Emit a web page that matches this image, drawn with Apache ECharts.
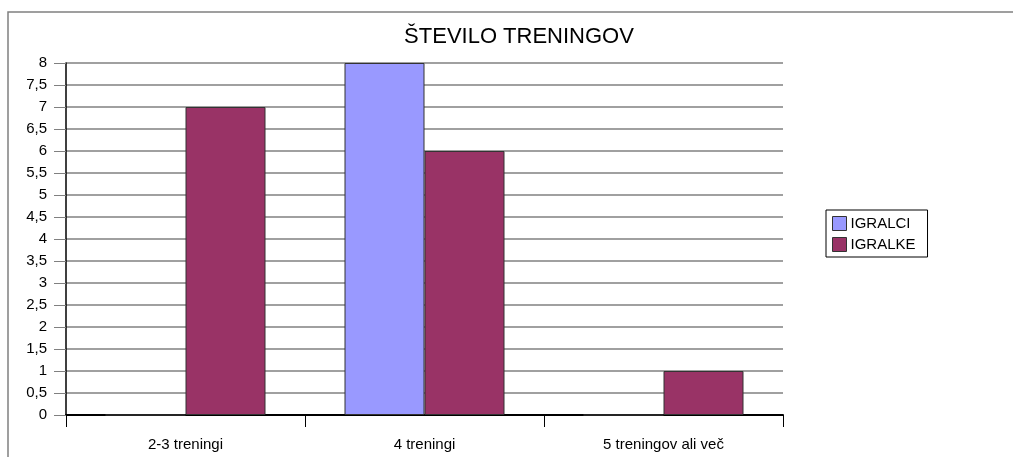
<!DOCTYPE html>
<html>
<head>
<meta charset="utf-8">
<script src="https://cdn.jsdelivr.net/npm/echarts@6/dist/echarts.min.js"></script>
<style>
  html, body { margin: 0; padding: 0; background: #fff; }
  #chart { width: 1013px; height: 457px; }
</style>
</head>
<body>
<div id="chart"></div>
<script>
// podatki z grafa
const categories = ['2-3 treningi', '4 treningi', '5 treningov ali več']
const igralci = [0, 8, 0]
const igralke = [7, 6, 1]
const seriesNames = ['IGRALCI', 'IGRALKE']

const font = '"Liberation Sans", Arial, sans-serif'

const chart = echarts.init(document.getElementById('chart'))

chart.setOption({
  backgroundColor: '#fff',
  animation: false,
  title: {
    text: 'ŠTEVILO TRENINGOV',
    left: 514,
    top: 21,
    textAlign: 'center',
    textStyle: { fontFamily: font, fontSize: 22, fontWeight: 'normal', color: '#000' }
  },
  // okvir grafa
  graphic: [
    {
      type: 'rect',
      shape: { x: 8, y: 12, width: 1020, height: 460 },
      style: { fill: 'none', stroke: '#808080', lineWidth: 1.5 },
      silent: true
    }
  ],
  legend: {
    orient: 'vertical',
    left: 826,
    top: 210,
    padding: [6, 12, 5, 6],
    itemGap: 6,
    itemWidth: 14,
    itemHeight: 14,
    icon: 'rect',
    backgroundColor: '#fff',
    borderColor: '#000',
    borderWidth: 1,
    itemStyle: { borderColor: '#333', borderWidth: 1 },
    textStyle: { fontFamily: font, fontSize: 15, color: '#000', padding: [0, 0, 0, -1] },
    data: seriesNames
  },
  grid: {
    left: 66,
    top: 63,
    width: 717,
    height: 352
  },
  xAxis: {
    type: 'category',
    data: categories,
    axisLine: { lineStyle: { color: '#000', width: 2 } },
    axisTick: { show: true, length: 12, lineStyle: { color: '#000' } },
    axisLabel: { fontFamily: font, fontSize: 15, color: '#000', margin: 22 }
  },
  yAxis: {
    type: 'value',
    min: 0,
    max: 8,
    interval: 0.5,
    axisLine: { show: true, lineStyle: { color: '#000', width: 1.5 } },
    axisTick: { show: true, length: 12, lineStyle: { color: '#808080' } },
    axisLabel: {
      fontFamily: font,
      fontSize: 15,
      color: '#000',
      margin: 19,
      formatter: (v) => String(v).replace('.', ',')
    },
    splitLine: { lineStyle: { color: '#808080', width: 1.5 } }
  },
  series: [
    {
      name: seriesNames[0],
      type: 'bar',
      barWidth: 80,
      barGap: '0%',
      itemStyle: { color: '#9999ff', borderColor: '#333', borderWidth: 1 },
      data: igralci
    },
    {
      name: seriesNames[1],
      type: 'bar',
      barWidth: 80,
      barGap: '0%',
      itemStyle: { color: '#993366', borderColor: '#333', borderWidth: 1 },
      data: igralke
    }
  ]
})
</script>
</body>
</html>
